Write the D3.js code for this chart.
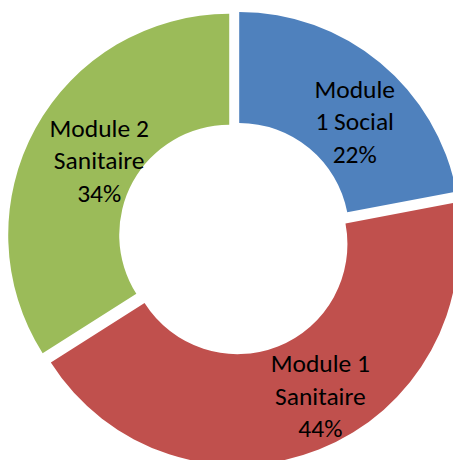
<!DOCTYPE html>
<html>
<head>
<meta charset="utf-8">
<script src="https://cdn.jsdelivr.net/npm/d3@7"></script>
<style>
  html, body { margin: 0; padding: 0; background: #ffffff; }
  svg { display: block; }
</style>
</head>
<body>
<script>
// ---- data ----
const categories = ["Module 1 Social", "Module 1 Sanitaire", "Module 2 Sanitaire"];
const values = [22, 44, 34];
const labelLines = [
  ["Module", "1 Social", "22%"],
  ["Module 1", "Sanitaire", "44%"],
  ["Module 2", "Sanitaire", "34%"]
];
const colors = ["#4F81BD", "#C0504D", "#9BBB59"];

// ---- layout ----
const W = 453, H = 460;
const cx = 235, cy = 238;
const outerR = 221, innerR = 110;
const explode = 6.6;
const fontSize = 25.5, lineH = 32.5;
// label nudges relative to arc centroid (layout only)
const labelNudge = [[10, 16], [22, -2], [15, 5]];

const svg = d3.select("body").append("svg")
  .attr("width", W).attr("height", H);

const pie = d3.pie().sort(null).value(d => d)(values);
const arc = d3.arc().innerRadius(innerR).outerRadius(outerR);

const g = svg.append("g").attr("transform", `translate(${cx},${cy})`);

const slices = g.selectAll("g.slice").data(pie).join("g")
  .attr("class", "slice")
  .attr("transform", d => {
    const a = (d.startAngle + d.endAngle) / 2;
    return `translate(${explode * Math.sin(a)},${-explode * Math.cos(a)})`;
  });

slices.append("path")
  .attr("d", arc)
  .attr("fill", (d, i) => colors[i]);

slices.each(function(d, i) {
  const c = arc.centroid(d);
  const x = c[0] + labelNudge[i][0];
  const y = c[1] + labelNudge[i][1];
  const lines = labelLines[i];
  const t = d3.select(this).append("text")
    .attr("text-anchor", "middle")
    .attr("font-family", "Carlito, Calibri, Lato, sans-serif")
    .attr("font-size", fontSize)
    .attr("fill", "#000");
  lines.forEach((ln, k) => {
    t.append("tspan")
      .attr("x", x)
      .attr("y", y + (k - (lines.length - 1) / 2) * lineH)
      .attr("dy", "0.35em")
      .text(ln);
  });
});
</script>
</body>
</html>
